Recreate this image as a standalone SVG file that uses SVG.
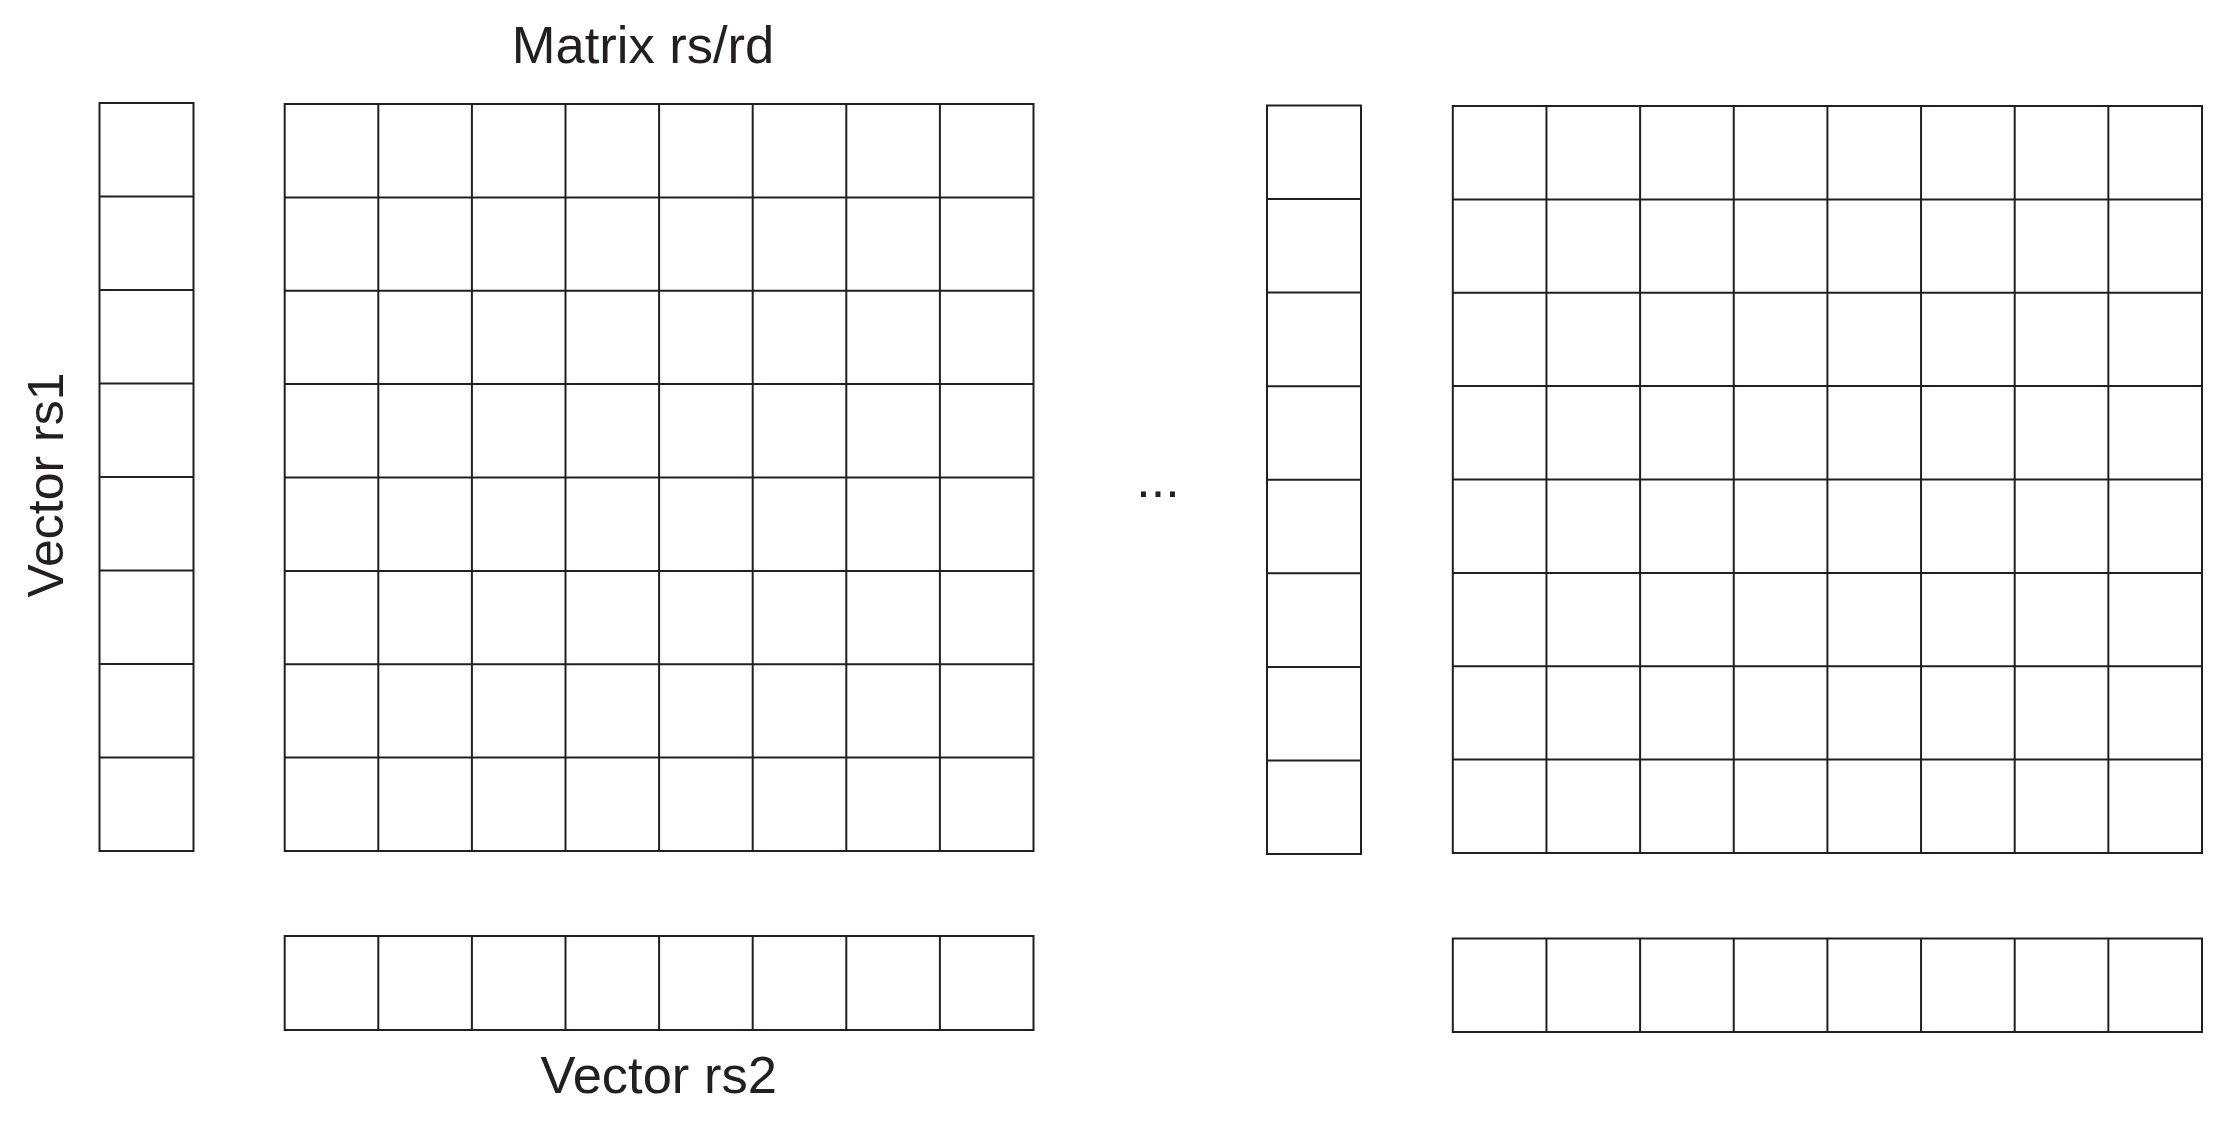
<svg xmlns="http://www.w3.org/2000/svg" width="2232" height="1128" viewBox="0 0 2232 1128">
<style>
.g{fill:none;stroke:#231f20;stroke-width:2}
.t{font-family:"Liberation Sans",Arial,sans-serif;fill:#231f20}
</style>
<rect width="2232" height="1128" fill="#ffffff"/>
<g id="vector-rs1">
<rect class="g" x="99.5" y="103" width="94" height="748"/>
<path class="g" d="M99.5 196.5H193.5M99.5 290H193.5M99.5 383.5H193.5M99.5 477H193.5M99.5 570.5H193.5M99.5 664H193.5M99.5 757.5H193.5"/>
</g>
<g id="matrix-rs-rd">
<rect class="g" x="284.7" y="104" width="748.8" height="747"/>
<path class="g" d="M378.3 104V851M471.9 104V851M565.5 104V851M659.1 104V851M752.7 104V851M846.3 104V851M939.9 104V851"/>
<path class="g" d="M284.7 197.4H1033.5M284.7 290.75H1033.5M284.7 384.1H1033.5M284.7 477.5H1033.5M284.7 570.9H1033.5M284.7 664.25H1033.5M284.7 757.6H1033.5"/>
</g>
<g id="vector-rs2">
<rect class="g" x="284.7" y="936" width="748.8" height="94"/>
<path class="g" d="M378.3 936V1030M471.9 936V1030M565.5 936V1030M659.1 936V1030M752.7 936V1030M846.3 936V1030M939.9 936V1030"/>
</g>
<g id="vector-col-2">
<rect class="g" x="1267" y="105.5" width="94" height="748.5"/>
<path class="g" d="M1267 199.1H1361M1267 292.6H1361M1267 386.2H1361M1267 479.7H1361M1267 573.3H1361M1267 666.9H1361M1267 760.4H1361"/>
</g>
<g id="matrix-2">
<rect class="g" x="1452.8" y="106" width="749.2" height="747"/>
<path class="g" d="M1546.45 106V853M1640.1 106V853M1733.75 106V853M1827.4 106V853M1921.05 106V853M2014.7 106V853M2108.35 106V853"/>
<path class="g" d="M1452.8 199.4H2202M1452.8 292.75H2202M1452.8 386.1H2202M1452.8 479.5H2202M1452.8 572.9H2202M1452.8 666.25H2202M1452.8 759.6H2202"/>
</g>
<g id="vector-row-2">
<rect class="g" x="1452.8" y="938.5" width="749.2" height="93.5"/>
<path class="g" d="M1546.45 938.5V1032M1640.1 938.5V1032M1733.75 938.5V1032M1827.4 938.5V1032M1921.05 938.5V1032M2014.7 938.5V1032M2108.35 938.5V1032"/>
</g>
<g id="labels">
<text class="t" x="643" y="63" font-size="52.5" text-anchor="middle">Matrix rs/rd</text>
<text class="t" x="658.7" y="1093" font-size="52.5" text-anchor="middle">Vector rs2</text>
<text class="t" transform="translate(63 485) rotate(-90)" font-size="50" text-anchor="middle">Vector rs1</text>
<text class="t" x="1158" y="497" font-size="52" text-anchor="middle">...</text>
</g>
</svg>
